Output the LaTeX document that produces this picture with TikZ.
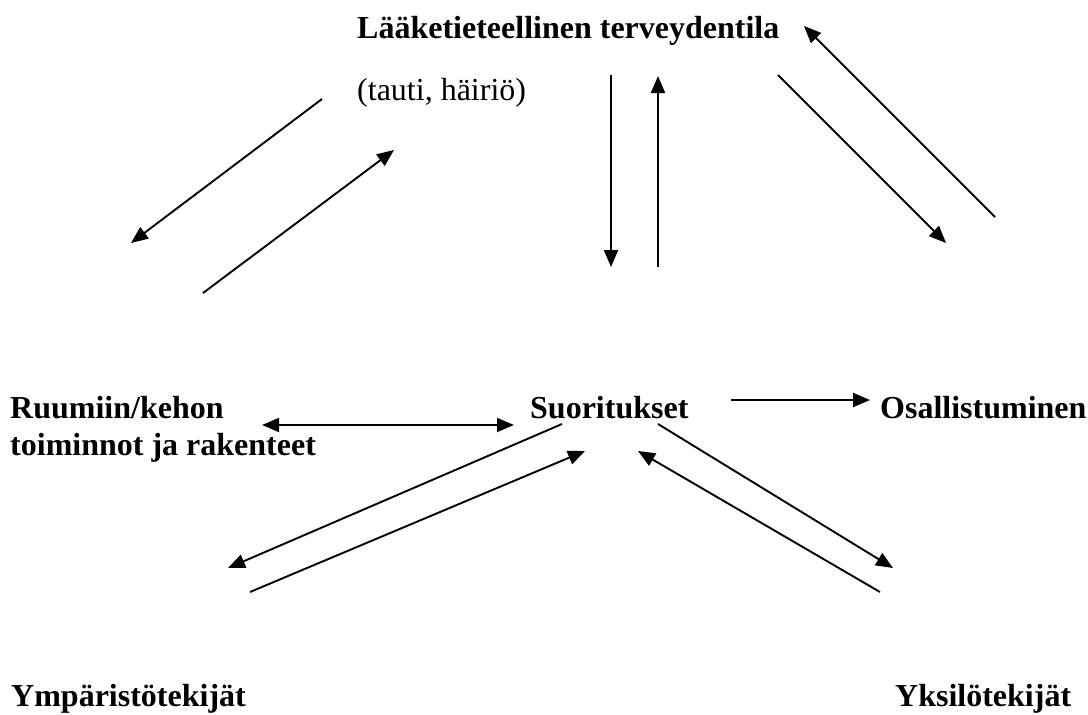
\documentclass[tikz,border=0pt]{standalone}
\usepackage{fontspec}
\setmainfont{Liberation Serif}
\usetikzlibrary{arrows.meta}
\begin{document}
\begin{tikzpicture}[x=1pt,y=-1pt,
  lbl/.style={anchor=base west,inner sep=0pt,font=\fontsize{32}{37}\selectfont\bfseries},
  sublbl/.style={anchor=base west,inner sep=0pt,font=\fontsize{32}{37}\selectfont},
  tip/.style={},
  conn/.style={line width=1.9pt,-{Triangle[length=17pt,width=14pt]}},
  biconn/.style={line width=1.9pt,{Triangle[length=17pt,width=14pt]}-{Triangle[length=17pt,width=14pt]}}]
\useasboundingbox[fill=white] (0,0) rectangle (1088,715);
% labels
\node[lbl] (med) at (357,38) {Lääketieteellinen terveydentila};
\node[sublbl] (tauti) at (357,100) {(tauti, häiriö)};
\node[lbl,align=left] (body) at (10,455) {Ruumiin/kehon\\toiminnot ja rakenteet};
\node[lbl] (suor) at (530,418) {Suoritukset};
\node[lbl] (osal) at (880,418) {Osallistuminen};
\node[lbl] (ymp) at (11,706) {Ympäristötekijät};
\node[lbl] (yks) at (895,706) {Yksilötekijät};
% arrow end points
\coordinate (a1s) at (322,99);  \coordinate (a1e) at (131,243);
\coordinate (a2s) at (203,293); \coordinate (a2e) at (394,150);
\coordinate (a3s) at (611,75);  \coordinate (a3e) at (611,267);
\coordinate (a4s) at (658,267); \coordinate (a4e) at (658,76);
\coordinate (a5s) at (778,75);  \coordinate (a5e) at (946,243);
\coordinate (a6s) at (995,217); \coordinate (a6e) at (804,26);
\coordinate (b1s) at (262,425); \coordinate (b1e) at (514,425);
\coordinate (a7s) at (731,400); \coordinate (a7e) at (870,400);
\coordinate (a8s) at (562,424); \coordinate (a8e) at (228,568);
\coordinate (a9s) at (250,592); \coordinate (a9e) at (585,451);
\coordinate (a10s) at (658,424); \coordinate (a10e) at (893,568);
\coordinate (a11s) at (880,592); \coordinate (a11e) at (638,451);
% connectors
\draw[conn] (a1s) -- (a1e);
\draw[conn] (a2s) -- (a2e);
\draw[conn] (a3s) -- (a3e);
\draw[conn] (a4s) -- (a4e);
\draw[conn] (a5s) -- (a5e);
\draw[conn] (a6s) -- (a6e);
\draw[biconn] (b1s) -- (b1e);
\draw[conn] (a7s) -- (a7e);
\draw[conn] (a8s) -- (a8e);
\draw[conn] (a9s) -- (a9e);
\draw[conn] (a10s) -- (a10e);
\draw[conn] (a11s) -- (a11e);
\end{tikzpicture}
\end{document}
